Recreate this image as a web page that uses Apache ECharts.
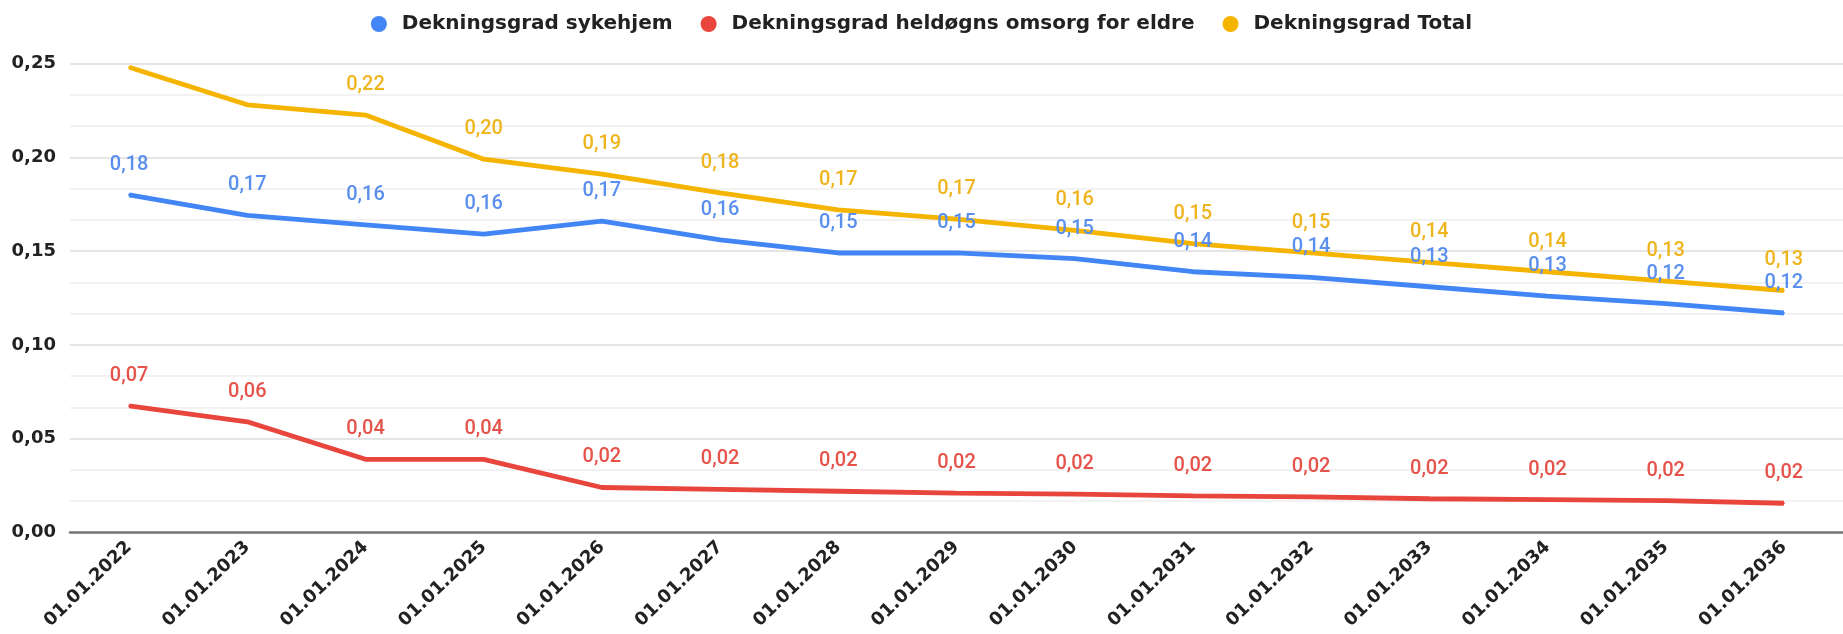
<!DOCTYPE html>
<html>
<head>
<meta charset="utf-8">
<script src="https://cdn.jsdelivr.net/npm/echarts@6/dist/echarts.min.js"></script>
<style>
  html, body { margin: 0; padding: 0; background: #fff; }
  #chart { width: 1843px; height: 634px; }
</style>
</head>
<body>
<div id="chart"></div>
<script>
var categories = ['01.01.2022', '01.01.2023', '01.01.2024', '01.01.2025', '01.01.2026',
	'01.01.2027', '01.01.2028', '01.01.2029', '01.01.2030', '01.01.2031',
	'01.01.2032', '01.01.2033', '01.01.2034', '01.01.2035', '01.01.2036'];
var sykehjem = [0.180, 0.169, 0.164, 0.159, 0.166, 0.156, 0.149, 0.149, 0.146, 0.139, 0.136, 0.131, 0.126, 0.122, 0.117];
var heldogns = [0.0675, 0.059, 0.039, 0.039, 0.024, 0.023, 0.022, 0.021, 0.0205, 0.0195, 0.019, 0.018, 0.0175, 0.017, 0.0156];
var total = [0.248, 0.228, 0.2225, 0.199, 0.191, 0.181, 0.172, 0.167, 0.161, 0.154, 0.149, 0.144, 0.139, 0.134, 0.129];
// labels not shown in the original for these points
var totalHiddenLabels = [0, 1];
var seriesNames = ['Dekningsgrad sykehjem', 'Dekningsgrad heldøgns omsorg for eldre', 'Dekningsgrad Total'];

function fmt(v){
	return v.toFixed(2).replace('.', ',');
}

var myChart = echarts.init(document.getElementById('chart'));

function makeSeries(name, values, color, labelColor, hidden){
	return {
		name: name,
		type: 'line',
		data: values.map(function(v, i){
			var d = {value: v};
			if (hidden && hidden.indexOf(i) >= 0) d.label = {show: false};
			return d;
		}),
		showSymbol: true,
		symbol: 'circle',
		symbolSize: 2,
		lineStyle: {color: color, width: 4.8},
		itemStyle: {color: color},
		label: {
			show: true,
			position: 'top',
			distance: 19,
			color: labelColor,
			fontFamily: 'Roboto',
			fontWeight: 500,
			fontSize: 20,
			formatter: function(p){ return fmt(p.value); }
		},
		labelLayout: {hideOverlap: false},
		emphasis: {disabled: true},
		animation: false
	};
}

var option = {
	backgroundColor: '#fff',
	legend: {
		data: seriesNames,
		top: 9,
		left: 'center',
		icon: 'circle',
		itemWidth: 16,
		itemHeight: 16,
		itemGap: 28,
		textStyle: {
			fontFamily: 'DejaVu Sans',
			fontWeight: 'bold',
			fontSize: 20,
			color: '#222',
			padding: [0, 0, 0, 10]
		}
	},
	grid: {left: 70, right: 0, top: 63.5, bottom: 101.5},
	xAxis: {
		type: 'category',
		boundaryGap: true,
		data: categories,
		axisLine: {show: true, lineStyle: {color: '#777', width: 2.5}},
		axisTick: {show: false},
		axisLabel: {
			interval: 0,
			rotate: 44,
			margin: 12,
			fontFamily: 'DejaVu Sans',
			fontWeight: 'bold',
			fontSize: 18,
			color: '#222'
		}
	},
	yAxis: {
		type: 'value',
		min: 0,
		max: 0.25,
		interval: 0.05,
		axisLine: {show: false},
		axisTick: {show: false},
		axisLabel: {
			margin: 14,
			fontFamily: 'DejaVu Sans',
			fontWeight: 'bold',
			fontSize: 18,
			color: '#222',
			formatter: fmt
		},
		splitLine: {lineStyle: {color: '#dcdcdc', width: 1.5}},
		minorTick: {show: false, splitNumber: 3},
		minorSplitLine: {show: true, lineStyle: {color: '#eeeeee', width: 1.5}}
	},
	series: [
		makeSeries(seriesNames[0], sykehjem, '#4285f4', '#5a8fee'),
		makeSeries(seriesNames[1], heldogns, '#e8453c', '#e5534b'),
		makeSeries(seriesNames[2], total, '#f5b400', '#efb51f', totalHiddenLabels)
	]
};
myChart.setOption(option);
</script>
</body>
</html>
